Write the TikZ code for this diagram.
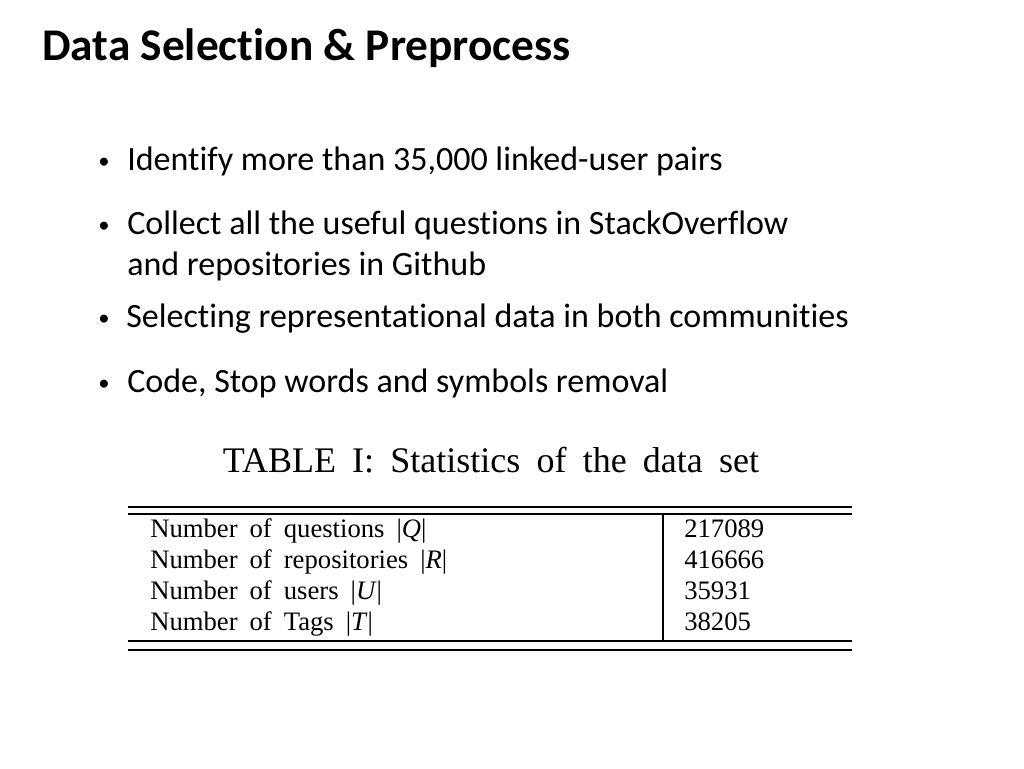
\documentclass[tikz,border=0pt]{standalone}
\usepackage{fontspec}
\setmainfont{Carlito}[Ligatures=NoCommon]
\newfontfamily\tnr{Liberation Serif}[WordSpace={1.8}]
\newcommand{\bul}{{\fontsize{17}{20}\selectfont\raisebox{1pt}{•}}}
\begin{document}
\begin{tikzpicture}[x=0.75pt,y=-0.75pt,
  txt/.style={anchor=base west,inner sep=0pt,font=\fontsize{25.5}{30}\selectfont},
  tb/.style={anchor=base west,inner sep=0pt,font=\tnr\fontsize{20}{23}\selectfont},
  rule/.style={line width=0.9pt}]
\useasboundingbox (0,0) rectangle (1024,768);
\node[anchor=base west,inner sep=0pt,font=\bfseries\fontsize{34}{40}\selectfont] (title) at (42,60) {Data Selection \& Preprocess};
\node[txt] (b1) at (98,170) {\bul};
\node[txt] (t1) at (127,170) {Identify more than 35,000 linked-user pairs};
\node[txt] (b2) at (98,234) {\bul};
\node[txt] (t2) at (127,234) {Collect all the useful questions in StackOverflow};
\node[txt] (t2b) at (127,275) {and repositories in Github};
\node[txt] (b3) at (98,327) {\bul};
\node[txt] (t3) at (126,327) {Selecting representational data in both communities};
\node[txt] (b4) at (98,392) {\bul};
\node[txt] (t4) at (127,392) {Code, Stop words and symbols removal};
\node[anchor=base,inner sep=0pt,font=\tnr\fontsize{27}{31}\selectfont] (cap) at (491,472) {TABLE I: Statistics of the data set};
\draw[rule] (128,507) -- (852,507);
\draw[rule] (128,514) -- (852,514);
\draw[rule] (128,641) -- (852,641);
\draw[rule] (128,650) -- (852,650);
\draw[rule] (663,514) -- (663,641);
\node[tb] (r1) at (150,537) {Number of questions |\textit{Q}|};
\node[tb] (r2) at (150,568) {Number of repositories |\textit{R}|};
\node[tb] (r3) at (150,599) {Number of users |\textit{U}|};
\node[tb] (r4) at (150,630) {Number of Tags |\textit{T}|};
\node[tb] (v1) at (684,537) {217089};
\node[tb] (v2) at (684,568) {416666};
\node[tb] (v3) at (684,599) {35931};
\node[tb] (v4) at (684,630) {38205};
\end{tikzpicture}
\end{document}
